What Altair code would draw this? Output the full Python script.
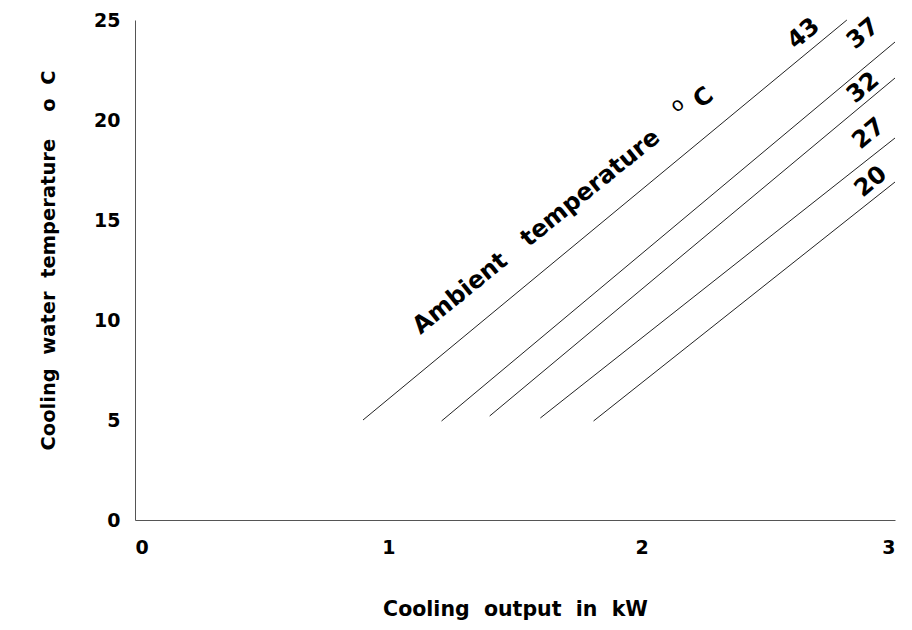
import altair as alt
import pandas as pd

# Ambient temperature curves: (x start, y start) -> (x end, y end)
ambient = ["43", "37", "32", "27", "20"]
x_start = [0.90, 1.21, 1.40, 1.60, 1.81]
y_start = [5.0, 4.95, 5.2, 5.1, 4.95]
x_end = [2.81, 3.0, 3.0, 3.0, 3.0]
y_end = [25.0, 23.9, 22.1, 19.1, 16.9]

# label positions for each curve
lab_x = [2.64, 2.875, 2.875, 2.897, 2.905]
lab_y = [24.3, 24.3, 21.6, 19.3, 16.9]

x_ticks = [0, 1, 2, 3]
y_ticks = [0, 5, 10, 15, 20, 25]

rows = []
for a, xs, ys, xe, ye in zip(ambient, x_start, y_start, x_end, y_end):
    rows.append({"amb": a, "x": xs, "y": ys, "o": 0})
    rows.append({"amb": a, "x": xe, "y": ye, "o": 1})
lines_df = pd.DataFrame(rows)
labels_df = pd.DataFrame({"amb": ambient, "x": lab_x, "y": lab_y})

FONT = "DejaVu Sans"
NB = "\u00a0"

xscale = alt.Scale(domain=[0, 3], nice=False)
yscale = alt.Scale(domain=[0, 25], nice=False)

base = alt.Chart(lines_df)

lines = base.mark_line(color="#222222", strokeWidth=1).encode(
    x=alt.X("x:Q", scale=xscale,
            axis=alt.Axis(values=x_ticks, format="d",
                          title=f"Cooling{NB}{NB}output{NB}{NB}in{NB}{NB}kW",
                          grid=False, ticks=False, labelPadding=18, titlePadding=42,
                          labelFontSize=19, labelFont=FONT, labelFontWeight="bold",
                          titleFont=FONT, titleFontSize=20.5, titleFontWeight="bold",
                          domainColor="#555555", labelColor="black", titleColor="black")),
    y=alt.Y("y:Q", scale=yscale,
            axis=alt.Axis(values=y_ticks, format="d",
                          title=f"Cooling{NB}{NB}water{NB}{NB}temperature{NB}{NB}{NB}{NB}o{NB}{NB}C",
                          grid=False, ticks=False, labelPadding=15, titlePadding=35,
                          titleY=240,
                          labelFontSize=19, labelFont=FONT, labelFontWeight="bold",
                          titleFont=FONT, titleFontSize=19.5, titleFontWeight="bold",
                          domainColor="#555555", labelColor="black", titleColor="black")),
    detail="amb:N",
    order="o:Q",
)

num_labels = alt.Chart(labels_df).mark_text(
    angle=320, font=FONT, fontSize=24, fontWeight="bold", color="black", baseline="middle"
).encode(x=alt.X("x:Q", scale=xscale), y=alt.Y("y:Q", scale=yscale), text="amb:N")

amb_text = pd.DataFrame({"x": [1.585], "y": [14.4], "t": [f"Ambient{NB}{NB}{NB}temperature"]})
amb = alt.Chart(amb_text).mark_text(
    angle=321, font=FONT, fontSize=24, fontWeight="bold", color="black", baseline="middle"
).encode(x=alt.X("x:Q", scale=xscale), y=alt.Y("y:Q", scale=yscale), text="t:N")

o_df = pd.DataFrame({"x": [2.14], "y": [20.75], "t": ["o"]})
o_mark = alt.Chart(o_df).mark_text(
    angle=321, font=FONT, fontSize=19, color="black", baseline="middle"
).encode(x=alt.X("x:Q", scale=xscale), y=alt.Y("y:Q", scale=yscale), text="t:N")

c_df = pd.DataFrame({"x": [2.245], "y": [21.1], "t": ["C"]})
c_mark = alt.Chart(c_df).mark_text(
    angle=321, font=FONT, fontSize=24, fontWeight="bold", color="black", baseline="middle"
).encode(x=alt.X("x:Q", scale=xscale), y=alt.Y("y:Q", scale=yscale), text="t:N")

chart = alt.layer(lines, num_labels, amb, o_mark, c_mark).properties(
    width=760, height=500,
    autosize=alt.AutoSizeParams(type="none"),
    padding={"left": 127, "top": 12, "right": 9, "bottom": 100},
    background="white",
).configure_view(stroke=None)

chart.save("out.html", embed_options={"renderer": "svg", "actions": False})
